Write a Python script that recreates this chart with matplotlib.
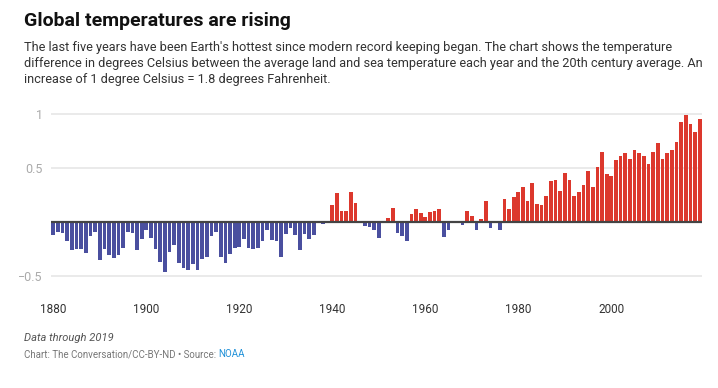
import matplotlib.pyplot as plt

plt.rcParams['font.family'] = ['Roboto', 'DejaVu Sans']

years = list(range(1880, 2020))
anomaly = [
    -0.12, -0.09, -0.10, -0.18, -0.26, -0.25, -0.25, -0.29, -0.13, -0.09,  # 1880s
    -0.35, -0.25, -0.31, -0.33, -0.31, -0.24, -0.09, -0.10, -0.26, -0.16,  # 1890s
    -0.07, -0.15, -0.25, -0.37, -0.46, -0.28, -0.21, -0.38, -0.43, -0.44,  # 1900s
    -0.39, -0.44, -0.34, -0.32, -0.13, -0.09, -0.32, -0.38, -0.30, -0.24,  # 1910s
    -0.23, -0.16, -0.24, -0.25, -0.24, -0.18, -0.07, -0.17, -0.18, -0.32,  # 1920s
    -0.11, -0.06, -0.12, -0.26, -0.11, -0.16, -0.12, 0.00, -0.02, 0.01,    # 1930s
    0.16, 0.27, 0.10, 0.10, 0.28, 0.18, 0.00, -0.04, -0.05, -0.07,         # 1940s
    -0.15, 0.00, 0.04, 0.13, -0.10, -0.13, -0.18, 0.07, 0.12, 0.08,        # 1950s
    0.05, 0.09, 0.10, 0.12, -0.14, -0.07, 0.00, 0.00, -0.03, 0.10,         # 1960s
    0.06, -0.07, 0.03, 0.19, -0.06, 0.01, -0.07, 0.21, 0.12, 0.23,         # 1970s
    0.28, 0.32, 0.19, 0.36, 0.17, 0.16, 0.24, 0.38, 0.39, 0.29,            # 1980s
    0.45, 0.39, 0.24, 0.28, 0.34, 0.47, 0.32, 0.51, 0.65, 0.44,            # 1990s
    0.43, 0.57, 0.61, 0.64, 0.58, 0.67, 0.64, 0.61, 0.54, 0.65,            # 2000s
    0.73, 0.58, 0.64, 0.67, 0.74, 0.93, 0.99, 0.91, 0.83, 0.95,            # 2010s
]
x_ticks = [1880, 1900, 1920, 1940, 1960, 1980, 2000]
y_ticks = [-0.5, 0.5, 1]
y_labels = ['\u22120.5', '0.5', '1']

RED = '#dc382d'
BLUE = '#4a4f9f'

W, H = 718, 388
fig = plt.figure(figsize=(W / 100, H / 100), dpi=100)

# axes placed in pixel terms: x 51..702, value 1 at y=114, 0 at y=222
y_lo, y_hi = -0.6, 1.05
px_per = 108
top_px = 222 - y_hi * px_per
bot_px = 222 - y_lo * px_per
ax = fig.add_axes([51 / W, 1 - bot_px / H, 651 / W, (bot_px - top_px) / H])

colors = [RED if v > 0 else BLUE for v in anomaly]
ax.bar(years, anomaly, width=0.8, color=colors, zorder=2)
ax.axhline(0, color='#444444', lw=1.6, zorder=3)

ax.set_xlim(1879.5, 2019.5)
ax.set_ylim(y_lo, y_hi)
ax.set_yticks(y_ticks)
ax.set_yticklabels(y_labels)
ax.set_xticks(x_ticks)
ax.grid(axis='y', color='#e6e6e6', lw=1.2, zorder=0)
ax.tick_params(axis='y', length=0, pad=6, labelsize=9, labelcolor='#aaaaaa')
ax.tick_params(axis='x', length=0, pad=12, labelsize=8.5, labelcolor='#333333')
for s in ax.spines.values():
    s.set_visible(False)

def fy(px):
    return 1 - px / H

fig.text(24 / W, fy(26), 'Global temperatures are rising', fontsize=14,
         fontweight='bold', color='#111111', va='baseline')
sub = ["The last five years have been Earth's hottest since modern record keeping began. The chart shows the temperature",
       "difference in degrees Celsius between the average land and sea temperature each year and the 20th century average. An",
       "increase of 1 degree Celsius = 1.8 degrees Fahrenheit."]
for i, line in enumerate(sub):
    fig.text(24 / W, fy(51 + 16 * i), line, fontsize=9.2, color='#333333', va='baseline')

fig.text(24 / W, fy(341), 'Data through 2019', fontsize=8, style='italic',
         color='#555555', va='baseline')
src = fig.text(24 / W, fy(357), 'Chart: The Conversation/CC-BY-ND \u2022 Source: ', fontsize=7,
               color='#777777', va='baseline')
fig.canvas.draw()
bb = src.get_window_extent()
fig.text(bb.x1 / W, fy(357), 'NOAA', fontsize=7, color='#1e90d8', va='baseline')

plt.savefig('out.png', dpi=100)
